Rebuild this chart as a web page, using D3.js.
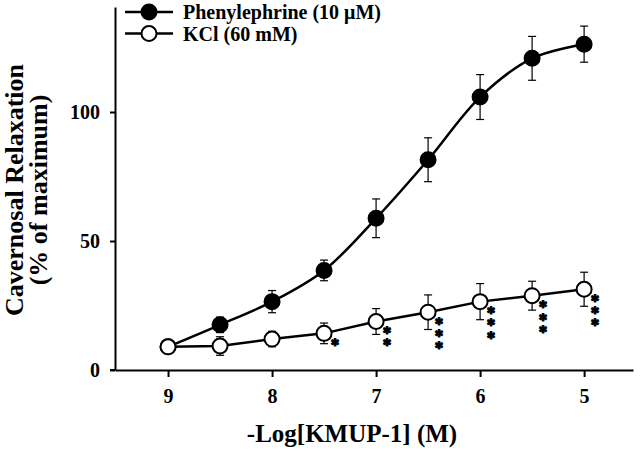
<!DOCTYPE html>
<html>
<head>
<meta charset="utf-8">
<script src="https://cdn.jsdelivr.net/npm/d3@7"></script>
<style>
  html, body { margin: 0; padding: 0; background: #fff; }
  svg { display: block; }
  text { font-family: "Liberation Serif", "Times New Roman", serif; font-weight: bold; fill: #000; }
</style>
</head>
<body>
<svg id="chart" width="640" height="453"></svg>
<script>
// ---- Data ----
const doses = [9, 8.5, 8, 7.5, 7, 6.5, 6, 5.5, 5];            // -Log[KMUP-1] (M)
const pheMean = [9.0, 17.5, 26.5, 38.6, 58.8, 81.5, 105.8, 120.8, 126.3];
const pheErr  = [0,   3.0,  4.3,  4.0,  7.5,  8.5,  8.7,   8.5,   7.0];
const kclMean = [9.0, 9.3, 12.0, 14.2, 18.8, 22.4, 26.5, 28.8, 31.3];
const kclErr  = [0,   3.6, 3.0,  4.0,  5.0,  6.7,  7.0,  5.6,  6.6];
const kclSig  = [0, 0, 0, 1, 2, 3, 3, 3, 3];   // number of asterisks
const sigMark = "\u2731";
const xTicks = [9, 8, 7, 6, 5];
const yTicks = [0, 50, 100];
const legendLabels = ["Phenylephrine (10 \u03bcM)", "KCl (60 mM)"];
const xTitle = "-Log[KMUP-1] (M)";
const yTitle = ["Cavernosal Relaxation", "(% of maximum)"];

// ---- Scales ----
const svg = d3.select("#chart");
const x = d3.scaleLinear().domain([9.51, 4.53]).range([115, 633]);
const y = d3.scaleLinear().domain([0, 140.7]).range([370, 7]);

// ---- Axes ----
const xAxis = svg.append("g").attr("transform", "translate(0,370)")
  .call(d3.axisBottom(x).tickValues(xTicks).tickFormat(d3.format("d")).tickSize(7).tickPadding(12).tickSizeOuter(0));
const yAxis = svg.append("g").attr("transform", "translate(115,0)")
  .call(d3.axisLeft(y).tickValues(yTicks).tickSize(5).tickPadding(10).tickSizeOuter(0));
[xAxis, yAxis].forEach(g => {
  g.select(".domain").attr("stroke", "#000").attr("stroke-width", 2);
  g.selectAll(".tick line").attr("stroke", "#000").attr("stroke-width", 2);
  g.selectAll(".tick text").style("font-size", "20px").style("font-family", "Liberation Serif, serif").style("font-weight", "bold");
});
svg.append("line").attr("x1", 110).attr("x2", 115).attr("y1", 370).attr("y2", 370)
  .attr("stroke", "#000").attr("stroke-width", 2);

// ---- Titles ----
svg.append("text").attr("x", 352).attr("y", 442).attr("text-anchor", "middle")
  .style("font-size", "25px").text(xTitle);
const yt = svg.append("g").attr("transform", "translate(0,190) rotate(-90)");
yt.append("text").attr("x", 0).attr("y", 23).attr("text-anchor", "middle").style("font-size", "26px").text(yTitle[0]);
yt.append("text").attr("x", 0).attr("y", 47).attr("text-anchor", "middle").style("font-size", "26px").text(yTitle[1]);

// ---- Series ----
function drawSeries(means, errs, filled, curve) {
  const pts = doses.map((d, i) => ({ d, m: means[i], e: errs[i] }));
  const line = d3.line().x(p => x(p.d)).y(p => y(p.m)).curve(curve);
  svg.append("path").datum(pts).attr("d", line).attr("fill", "none")
    .attr("stroke", "#000").attr("stroke-width", 2.5);
  const eb = svg.append("g").attr("stroke", "#000").attr("stroke-width", 1.2);
  pts.filter(p => p.e > 0).forEach(p => {
    eb.append("line").attr("x1", x(p.d)).attr("x2", x(p.d)).attr("y1", y(p.m + p.e)).attr("y2", y(p.m - p.e));
    eb.append("line").attr("x1", x(p.d) - 4).attr("x2", x(p.d) + 4).attr("y1", y(p.m + p.e)).attr("y2", y(p.m + p.e));
    eb.append("line").attr("x1", x(p.d) - 4).attr("x2", x(p.d) + 4).attr("y1", y(p.m - p.e)).attr("y2", y(p.m - p.e));
  });
  svg.append("g").selectAll("circle").data(pts).join("circle")
    .attr("cx", p => x(p.d)).attr("cy", p => y(p.m)).attr("r", 7.5)
    .attr("fill", filled ? "#000" : "#fff").attr("stroke", "#000").attr("stroke-width", 2);
}
drawSeries(pheMean, pheErr, true, d3.curveCatmullRom.alpha(0.5));
drawSeries(kclMean, kclErr, false, d3.curveLinear);

// ---- Significance asterisks ----
const sig = svg.append("g");
doses.forEach((d, i) => {
  for (let k = 0; k < kclSig[i]; k++) {
    sig.append("text").attr("x", x(d) + 11)
      .attr("y", y(kclMean[i]) + 9 + k * 12.2)
      .attr("dy", "0.35em")
      .attr("text-anchor", "middle")
      .attr("stroke", "#000").attr("stroke-width", 1).attr("stroke-linejoin", "round")
      .style("font-family", "DejaVu Sans, sans-serif").style("font-weight", "bold")
      .style("font-size", "10.4px").text(sigMark);
  }
});

// ---- Legend ----
const lg = svg.append("g");
legendLabels.forEach((lab, i) => {
  const cy = 12 + i * 21.5;
  lg.append("line").attr("x1", 125).attr("x2", 173).attr("y1", cy).attr("y2", cy)
    .attr("stroke", "#000").attr("stroke-width", 2.5);
  lg.append("circle").attr("cx", 149).attr("cy", cy).attr("r", 7.5)
    .attr("fill", i === 0 ? "#000" : "#fff").attr("stroke", "#000").attr("stroke-width", 2);
  lg.append("text").attr("x", 183).attr("y", cy + 7).style("font-size", "20px").text(lab);
});
</script>
</body>
</html>
